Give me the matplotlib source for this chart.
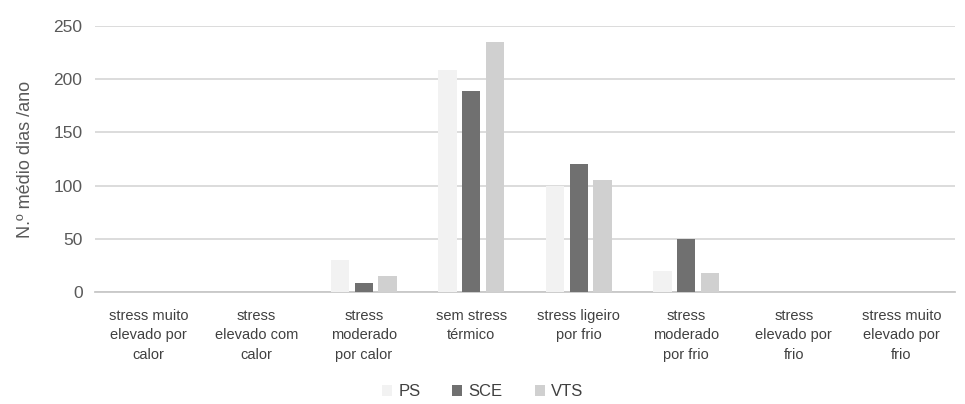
import numpy as np
import matplotlib
matplotlib.use("Agg")
import matplotlib.pyplot as plt

plt.rcParams['font.family'] = ['Liberation Sans', 'DejaVu Sans']

categories = [
    "stress muito\nelevado por\ncalor",
    "stress\nelevado com\ncalor",
    "stress\nmoderado\npor calor",
    "sem stress\ntérmico",
    "stress ligeiro\npor frio",
    "stress\nmoderado\npor frio",
    "stress\nelevado por\nfrio",
    "stress muito\nelevado por\nfrio",
]
ps = [0, 0, 30, 209, 100, 20, 0, 0]
sce = [0, 0, 8, 189, 120, 50, 0, 0]
vts = [0, 0, 15, 235, 105, 18, 0, 0]

series = [("PS", ps, "#f2f2f2"), ("SCE", sce, "#707070"), ("VTS", vts, "#d0d0d0")]

fig = plt.figure(figsize=(9.65, 4.04), dpi=100)
ax = fig.add_axes([95 / 965, 1 - 292 / 404, 860 / 965, 266 / 404])

x = np.arange(len(categories))
step = 0.223
width = 0.172
for i, (name, vals, col) in enumerate(series):
    ax.bar(x + (i - 1) * step, vals, width, color=col, label=name, zorder=3)

ax.set_xlim(-0.5, len(categories) - 0.5)
ax.set_ylim(0, 250)
ax.set_yticks(range(0, 251, 50))
ax.yaxis.grid(True, color="#d9d9d9", linewidth=1.3, zorder=0)
ax.set_axisbelow(True)
for s in ["top", "right", "left"]:
    ax.spines[s].set_visible(False)
ax.spines["bottom"].set_color("#c8c8c8")
ax.spines["bottom"].set_linewidth(1.3)
ax.tick_params(length=0, colors="#595959")
ax.tick_params(axis="y", labelsize=12.5, pad=9)
ax.set_xticks(x)
ax.set_xticklabels(categories, fontsize=10.5, linespacing=1.5, color="#404040")
ax.tick_params(axis="x", pad=12)
ax.set_ylabel("N.º médio dias /ano", fontsize=13, color="#595959", labelpad=14)

fig.legend(loc="center", bbox_to_anchor=(0.5, 1 - 392 / 404), ncol=3, frameon=False,
           fontsize=12, handlelength=0.6, handleheight=0.6, columnspacing=1.9,
           handletextpad=0.4, labelcolor="#404040")

fig.savefig("out.png", dpi=100)
